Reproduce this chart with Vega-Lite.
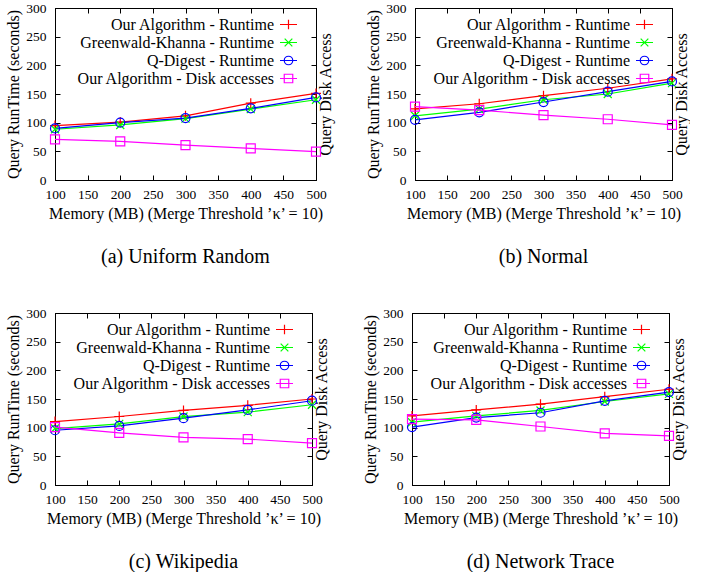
{
  "$schema": "https://vega.github.io/schema/vega-lite/v6.json",
  "background": "white",
  "padding": {"left": 5, "top": 0, "right": 0, "bottom": 0},
  "datasets": {
    "runs": [
      {"p": "a", "s": "Our Algorithm - Runtime", "m": 100, "v": 95},
      {"p": "a", "s": "Our Algorithm - Runtime", "m": 200, "v": 101},
      {"p": "a", "s": "Our Algorithm - Runtime", "m": 300, "v": 112},
      {"p": "a", "s": "Our Algorithm - Runtime", "m": 400, "v": 134},
      {"p": "a", "s": "Our Algorithm - Runtime", "m": 500, "v": 151},
      {"p": "a", "s": "Greenwald-Khanna - Runtime", "m": 100, "v": 88.5},
      {"p": "a", "s": "Greenwald-Khanna - Runtime", "m": 200, "v": 96},
      {"p": "a", "s": "Greenwald-Khanna - Runtime", "m": 300, "v": 107},
      {"p": "a", "s": "Greenwald-Khanna - Runtime", "m": 400, "v": 123.5},
      {"p": "a", "s": "Greenwald-Khanna - Runtime", "m": 500, "v": 140},
      {"p": "a", "s": "Q-Digest - Runtime", "m": 100, "v": 90},
      {"p": "a", "s": "Q-Digest - Runtime", "m": 200, "v": 100},
      {"p": "a", "s": "Q-Digest - Runtime", "m": 300, "v": 108},
      {"p": "a", "s": "Q-Digest - Runtime", "m": 400, "v": 125},
      {"p": "a", "s": "Q-Digest - Runtime", "m": 500, "v": 144},
      {"p": "a", "s": "Our Algorithm - Disk accesses", "m": 100, "v": 71},
      {"p": "a", "s": "Our Algorithm - Disk accesses", "m": 200, "v": 67.5},
      {"p": "a", "s": "Our Algorithm - Disk accesses", "m": 300, "v": 61},
      {"p": "a", "s": "Our Algorithm - Disk accesses", "m": 400, "v": 55},
      {"p": "a", "s": "Our Algorithm - Disk accesses", "m": 500, "v": 49.5},
      {"p": "b", "s": "Our Algorithm - Runtime", "m": 100, "v": 124},
      {"p": "b", "s": "Our Algorithm - Runtime", "m": 200, "v": 133},
      {"p": "b", "s": "Our Algorithm - Runtime", "m": 300, "v": 147},
      {"p": "b", "s": "Our Algorithm - Runtime", "m": 400, "v": 160},
      {"p": "b", "s": "Our Algorithm - Runtime", "m": 500, "v": 176.5},
      {"p": "b", "s": "Greenwald-Khanna - Runtime", "m": 100, "v": 112},
      {"p": "b", "s": "Greenwald-Khanna - Runtime", "m": 200, "v": 123.5},
      {"p": "b", "s": "Greenwald-Khanna - Runtime", "m": 300, "v": 140},
      {"p": "b", "s": "Greenwald-Khanna - Runtime", "m": 400, "v": 150},
      {"p": "b", "s": "Greenwald-Khanna - Runtime", "m": 500, "v": 169},
      {"p": "b", "s": "Q-Digest - Runtime", "m": 100, "v": 105},
      {"p": "b", "s": "Q-Digest - Runtime", "m": 200, "v": 118},
      {"p": "b", "s": "Q-Digest - Runtime", "m": 300, "v": 136},
      {"p": "b", "s": "Q-Digest - Runtime", "m": 400, "v": 154},
      {"p": "b", "s": "Q-Digest - Runtime", "m": 500, "v": 172},
      {"p": "b", "s": "Our Algorithm - Disk accesses", "m": 100, "v": 128},
      {"p": "b", "s": "Our Algorithm - Disk accesses", "m": 200, "v": 122},
      {"p": "b", "s": "Our Algorithm - Disk accesses", "m": 300, "v": 113},
      {"p": "b", "s": "Our Algorithm - Disk accesses", "m": 400, "v": 106},
      {"p": "b", "s": "Our Algorithm - Disk accesses", "m": 500, "v": 96},
      {"p": "c", "s": "Our Algorithm - Runtime", "m": 100, "v": 110.7},
      {"p": "c", "s": "Our Algorithm - Runtime", "m": 200, "v": 119.5},
      {"p": "c", "s": "Our Algorithm - Runtime", "m": 300, "v": 130},
      {"p": "c", "s": "Our Algorithm - Runtime", "m": 400, "v": 139},
      {"p": "c", "s": "Our Algorithm - Runtime", "m": 500, "v": 150},
      {"p": "c", "s": "Greenwald-Khanna - Runtime", "m": 100, "v": 98.5},
      {"p": "c", "s": "Greenwald-Khanna - Runtime", "m": 200, "v": 106.6},
      {"p": "c", "s": "Greenwald-Khanna - Runtime", "m": 300, "v": 119.4},
      {"p": "c", "s": "Greenwald-Khanna - Runtime", "m": 400, "v": 127},
      {"p": "c", "s": "Greenwald-Khanna - Runtime", "m": 500, "v": 140},
      {"p": "c", "s": "Q-Digest - Runtime", "m": 100, "v": 95.5},
      {"p": "c", "s": "Q-Digest - Runtime", "m": 200, "v": 103},
      {"p": "c", "s": "Q-Digest - Runtime", "m": 300, "v": 116.5},
      {"p": "c", "s": "Q-Digest - Runtime", "m": 400, "v": 131},
      {"p": "c", "s": "Q-Digest - Runtime", "m": 500, "v": 147},
      {"p": "c", "s": "Our Algorithm - Disk accesses", "m": 100, "v": 100.8},
      {"p": "c", "s": "Our Algorithm - Disk accesses", "m": 200, "v": 91},
      {"p": "c", "s": "Our Algorithm - Disk accesses", "m": 300, "v": 83},
      {"p": "c", "s": "Our Algorithm - Disk accesses", "m": 400, "v": 80},
      {"p": "c", "s": "Our Algorithm - Disk accesses", "m": 500, "v": 73},
      {"p": "d", "s": "Our Algorithm - Runtime", "m": 100, "v": 120.5},
      {"p": "d", "s": "Our Algorithm - Runtime", "m": 200, "v": 131},
      {"p": "d", "s": "Our Algorithm - Runtime", "m": 300, "v": 141},
      {"p": "d", "s": "Our Algorithm - Runtime", "m": 400, "v": 154},
      {"p": "d", "s": "Our Algorithm - Runtime", "m": 500, "v": 167},
      {"p": "d", "s": "Greenwald-Khanna - Runtime", "m": 100, "v": 109.5},
      {"p": "d", "s": "Greenwald-Khanna - Runtime", "m": 200, "v": 120.5},
      {"p": "d", "s": "Greenwald-Khanna - Runtime", "m": 300, "v": 130},
      {"p": "d", "s": "Greenwald-Khanna - Runtime", "m": 400, "v": 145.6},
      {"p": "d", "s": "Greenwald-Khanna - Runtime", "m": 500, "v": 159},
      {"p": "d", "s": "Q-Digest - Runtime", "m": 100, "v": 101},
      {"p": "d", "s": "Q-Digest - Runtime", "m": 200, "v": 117.6},
      {"p": "d", "s": "Q-Digest - Runtime", "m": 300, "v": 126},
      {"p": "d", "s": "Q-Digest - Runtime", "m": 400, "v": 146.8},
      {"p": "d", "s": "Q-Digest - Runtime", "m": 500, "v": 162},
      {"p": "d", "s": "Our Algorithm - Disk accesses", "m": 100, "v": 115},
      {"p": "d", "s": "Our Algorithm - Disk accesses", "m": 200, "v": 113.5},
      {"p": "d", "s": "Our Algorithm - Disk accesses", "m": 300, "v": 102},
      {"p": "d", "s": "Our Algorithm - Disk accesses", "m": 400, "v": 90},
      {"p": "d", "s": "Our Algorithm - Disk accesses", "m": 500, "v": 85.6}
    ]
  },
  "data": {"name": "runs"},
  "resolve": {"scale": {"color": "independent", "shape": "independent"}, "legend": {"color": "independent", "shape": "independent"}},
  "columns": 1,
  "align": "none",
  "spacing": {"row": 38, "column": 0},
  "concat": [
    {
      "spacing": 31,
      "resolve": {"scale": {"color": "independent", "shape": "independent"}, "legend": {"color": "independent", "shape": "independent"}},
      "hconcat": [
        {
          "width": 261, "height": 172,
          "title": {"text": "(a) Uniform Random"},
          "transform": [{"filter": "datum.p === 'a'"}],
          "resolve": {"scale": {"x": "independent", "y": "independent"}},
          "layer": [
            {
              "transform": [{"filter": "datum.s !== 'Our Algorithm - Disk accesses'"}],
              "encoding": {
                "x": {"field": "m", "type": "quantitative", "scale": {"domain": [100, 500], "nice": false, "zero": false}, "axis": {"orient": "bottom", "values": [100, 150, 200, 250, 300, 350, 400, 450, 500], "title": "Memory (MB) (Merge Threshold ’κ’ = 10)"}},
                "y": {"field": "v", "type": "quantitative", "scale": {"domain": [0, 300], "nice": false}, "axis": {"orient": "left", "values": [0, 50, 100, 150, 200, 250, 300], "title": "Query RunTime (seconds)"}},
                "color": {"field": "s", "type": "nominal", "scale": {"domain": ["Our Algorithm - Runtime", "Greenwald-Khanna - Runtime", "Q-Digest - Runtime", "Our Algorithm - Disk accesses"], "range": ["#ff0000", "#00ff00", "#0000ff", "#ff00ff"]}, "legend": {"legendX": 224, "encode": {"symbols": {"update": {"fill": {"value": "transparent"}, "shape": {"signal": "datum.value === 'Our Algorithm - Runtime' ? 'M-1,0H1M0,-0.55V0.55' : datum.value === 'Greenwald-Khanna - Runtime' ? 'M-1,0H1M-0.45,-0.45L0.45,0.45M-0.45,0.45L0.45,-0.45' : datum.value === 'Q-Digest - Runtime' ? 'M-1,0H1M0.5,0A0.5,0.5,0,1,1,-0.5,0A0.5,0.5,0,1,1,0.5,0' : 'M-1,0H1M-0.5,-0.5H0.5V0.5H-0.5Z'"}}}}}}
              },
              "layer": [
                {"mark": {"type": "line", "strokeWidth": 1.2}},
                {"mark": {"type": "point", "filled": false, "strokeWidth": 1.2, "size": 100, "opacity": 1}, "encoding": {"shape": {"field": "s", "type": "nominal", "scale": {"domain": ["Our Algorithm - Disk accesses", "Our Algorithm - Runtime", "Greenwald-Khanna - Runtime", "Q-Digest - Runtime"], "range": ["M-0.9,-0.9H0.9V0.9H-0.9Z", "M-1,0H1M0,-1V1", "M-0.8,-0.8L0.8,0.8M-0.8,0.8L0.8,-0.8", "M0.9,0A0.9,0.9,0,1,1,-0.9,0A0.9,0.9,0,1,1,0.9,0Z"]}, "legend": null}}}
              ]
            },
            {
              "transform": [{"filter": "datum.s === 'Our Algorithm - Disk accesses'"}],
              "encoding": {
                "x": {"field": "m", "type": "quantitative", "scale": {"domain": [100, 500], "nice": false, "zero": false}, "axis": {"orient": "top", "values": [100, 150, 200, 250, 300, 350, 400, 450, 500], "labels": false, "title": null}},
                "y": {"field": "v", "type": "quantitative", "scale": {"domain": [0, 300], "nice": false}, "axis": {"orient": "right", "values": [0, 50, 100, 150, 200, 250, 300], "labels": false, "title": "Query Disk Access"}},
                "color": {"field": "s", "type": "nominal", "scale": {"domain": ["Our Algorithm - Runtime", "Greenwald-Khanna - Runtime", "Q-Digest - Runtime", "Our Algorithm - Disk accesses"], "range": ["#ff0000", "#00ff00", "#0000ff", "#ff00ff"]}, "legend": {"legendX": 224, "encode": {"symbols": {"update": {"fill": {"value": "transparent"}, "shape": {"signal": "datum.value === 'Our Algorithm - Runtime' ? 'M-1,0H1M0,-0.55V0.55' : datum.value === 'Greenwald-Khanna - Runtime' ? 'M-1,0H1M-0.45,-0.45L0.45,0.45M-0.45,0.45L0.45,-0.45' : datum.value === 'Q-Digest - Runtime' ? 'M-1,0H1M0.5,0A0.5,0.5,0,1,1,-0.5,0A0.5,0.5,0,1,1,0.5,0' : 'M-1,0H1M-0.5,-0.5H0.5V0.5H-0.5Z'"}}}}}}
              },
              "layer": [
                {"mark": {"type": "line", "strokeWidth": 1.2}},
                {"mark": {"type": "point", "filled": false, "strokeWidth": 1.2, "size": 100, "opacity": 1}, "encoding": {"shape": {"field": "s", "type": "nominal", "scale": {"domain": ["Our Algorithm - Disk accesses", "Our Algorithm - Runtime", "Greenwald-Khanna - Runtime", "Q-Digest - Runtime"], "range": ["M-0.9,-0.9H0.9V0.9H-0.9Z", "M-1,0H1M0,-1V1", "M-0.8,-0.8L0.8,0.8M-0.8,0.8L0.8,-0.8", "M0.9,0A0.9,0.9,0,1,1,-0.9,0A0.9,0.9,0,1,1,0.9,0Z"]}, "legend": null}}}
              ]
            }
          ]
        },
        {
          "width": 257, "height": 172,
          "title": {"text": "(b) Normal"},
          "transform": [{"filter": "datum.p === 'b'"}],
          "resolve": {"scale": {"x": "independent", "y": "independent"}},
          "layer": [
            {
              "transform": [{"filter": "datum.s !== 'Our Algorithm - Disk accesses'"}],
              "encoding": {
                "x": {"field": "m", "type": "quantitative", "scale": {"domain": [100, 500], "nice": false, "zero": false}, "axis": {"orient": "bottom", "values": [100, 150, 200, 250, 300, 350, 400, 450, 500], "title": "Memory (MB) (Merge Threshold ’κ’ = 10)"}},
                "y": {"field": "v", "type": "quantitative", "scale": {"domain": [0, 300], "nice": false}, "axis": {"orient": "left", "values": [0, 50, 100, 150, 200, 250, 300], "title": "Query RunTime (seconds)"}},
                "color": {"field": "s", "type": "nominal", "scale": {"domain": ["Our Algorithm - Runtime", "Greenwald-Khanna - Runtime", "Q-Digest - Runtime", "Our Algorithm - Disk accesses"], "range": ["#ff0000", "#00ff00", "#0000ff", "#ff00ff"]}, "legend": {"legendX": 220, "encode": {"symbols": {"update": {"fill": {"value": "transparent"}, "shape": {"signal": "datum.value === 'Our Algorithm - Runtime' ? 'M-1,0H1M0,-0.55V0.55' : datum.value === 'Greenwald-Khanna - Runtime' ? 'M-1,0H1M-0.45,-0.45L0.45,0.45M-0.45,0.45L0.45,-0.45' : datum.value === 'Q-Digest - Runtime' ? 'M-1,0H1M0.5,0A0.5,0.5,0,1,1,-0.5,0A0.5,0.5,0,1,1,0.5,0' : 'M-1,0H1M-0.5,-0.5H0.5V0.5H-0.5Z'"}}}}}}
              },
              "layer": [
                {"mark": {"type": "line", "strokeWidth": 1.2}},
                {"mark": {"type": "point", "filled": false, "strokeWidth": 1.2, "size": 100, "opacity": 1}, "encoding": {"shape": {"field": "s", "type": "nominal", "scale": {"domain": ["Our Algorithm - Disk accesses", "Our Algorithm - Runtime", "Greenwald-Khanna - Runtime", "Q-Digest - Runtime"], "range": ["M-0.9,-0.9H0.9V0.9H-0.9Z", "M-1,0H1M0,-1V1", "M-0.8,-0.8L0.8,0.8M-0.8,0.8L0.8,-0.8", "M0.9,0A0.9,0.9,0,1,1,-0.9,0A0.9,0.9,0,1,1,0.9,0Z"]}, "legend": null}}}
              ]
            },
            {
              "transform": [{"filter": "datum.s === 'Our Algorithm - Disk accesses'"}],
              "encoding": {
                "x": {"field": "m", "type": "quantitative", "scale": {"domain": [100, 500], "nice": false, "zero": false}, "axis": {"orient": "top", "values": [100, 150, 200, 250, 300, 350, 400, 450, 500], "labels": false, "title": null}},
                "y": {"field": "v", "type": "quantitative", "scale": {"domain": [0, 300], "nice": false}, "axis": {"orient": "right", "values": [0, 50, 100, 150, 200, 250, 300], "labels": false, "title": "Query Disk Access"}},
                "color": {"field": "s", "type": "nominal", "scale": {"domain": ["Our Algorithm - Runtime", "Greenwald-Khanna - Runtime", "Q-Digest - Runtime", "Our Algorithm - Disk accesses"], "range": ["#ff0000", "#00ff00", "#0000ff", "#ff00ff"]}, "legend": {"legendX": 220, "encode": {"symbols": {"update": {"fill": {"value": "transparent"}, "shape": {"signal": "datum.value === 'Our Algorithm - Runtime' ? 'M-1,0H1M0,-0.55V0.55' : datum.value === 'Greenwald-Khanna - Runtime' ? 'M-1,0H1M-0.45,-0.45L0.45,0.45M-0.45,0.45L0.45,-0.45' : datum.value === 'Q-Digest - Runtime' ? 'M-1,0H1M0.5,0A0.5,0.5,0,1,1,-0.5,0A0.5,0.5,0,1,1,0.5,0' : 'M-1,0H1M-0.5,-0.5H0.5V0.5H-0.5Z'"}}}}}}
              },
              "layer": [
                {"mark": {"type": "line", "strokeWidth": 1.2}},
                {"mark": {"type": "point", "filled": false, "strokeWidth": 1.2, "size": 100, "opacity": 1}, "encoding": {"shape": {"field": "s", "type": "nominal", "scale": {"domain": ["Our Algorithm - Disk accesses", "Our Algorithm - Runtime", "Greenwald-Khanna - Runtime", "Q-Digest - Runtime"], "range": ["M-0.9,-0.9H0.9V0.9H-0.9Z", "M-1,0H1M0,-1V1", "M-0.8,-0.8L0.8,0.8M-0.8,0.8L0.8,-0.8", "M0.9,0A0.9,0.9,0,1,1,-0.9,0A0.9,0.9,0,1,1,0.9,0Z"]}, "legend": null}}}
              ]
            }
          ]
        }
      ]
    },
    {
      "spacing": 32,
      "resolve": {"scale": {"color": "independent", "shape": "independent"}, "legend": {"color": "independent", "shape": "independent"}},
      "hconcat": [
        {
          "width": 257, "height": 172,
          "title": {"text": "(c) Wikipedia"},
          "transform": [{"filter": "datum.p === 'c'"}],
          "resolve": {"scale": {"x": "independent", "y": "independent"}},
          "layer": [
            {
              "transform": [{"filter": "datum.s !== 'Our Algorithm - Disk accesses'"}],
              "encoding": {
                "x": {"field": "m", "type": "quantitative", "scale": {"domain": [100, 500], "nice": false, "zero": false}, "axis": {"orient": "bottom", "values": [100, 150, 200, 250, 300, 350, 400, 450, 500], "title": "Memory (MB) (Merge Threshold ’κ’ = 10)"}},
                "y": {"field": "v", "type": "quantitative", "scale": {"domain": [0, 300], "nice": false}, "axis": {"orient": "left", "values": [0, 50, 100, 150, 200, 250, 300], "title": "Query RunTime (seconds)"}},
                "color": {"field": "s", "type": "nominal", "scale": {"domain": ["Our Algorithm - Runtime", "Greenwald-Khanna - Runtime", "Q-Digest - Runtime", "Our Algorithm - Disk accesses"], "range": ["#ff0000", "#00ff00", "#0000ff", "#ff00ff"]}, "legend": {"legendX": 220, "encode": {"symbols": {"update": {"fill": {"value": "transparent"}, "shape": {"signal": "datum.value === 'Our Algorithm - Runtime' ? 'M-1,0H1M0,-0.55V0.55' : datum.value === 'Greenwald-Khanna - Runtime' ? 'M-1,0H1M-0.45,-0.45L0.45,0.45M-0.45,0.45L0.45,-0.45' : datum.value === 'Q-Digest - Runtime' ? 'M-1,0H1M0.5,0A0.5,0.5,0,1,1,-0.5,0A0.5,0.5,0,1,1,0.5,0' : 'M-1,0H1M-0.5,-0.5H0.5V0.5H-0.5Z'"}}}}}}
              },
              "layer": [
                {"mark": {"type": "line", "strokeWidth": 1.2}},
                {"mark": {"type": "point", "filled": false, "strokeWidth": 1.2, "size": 100, "opacity": 1}, "encoding": {"shape": {"field": "s", "type": "nominal", "scale": {"domain": ["Our Algorithm - Disk accesses", "Our Algorithm - Runtime", "Greenwald-Khanna - Runtime", "Q-Digest - Runtime"], "range": ["M-0.9,-0.9H0.9V0.9H-0.9Z", "M-1,0H1M0,-1V1", "M-0.8,-0.8L0.8,0.8M-0.8,0.8L0.8,-0.8", "M0.9,0A0.9,0.9,0,1,1,-0.9,0A0.9,0.9,0,1,1,0.9,0Z"]}, "legend": null}}}
              ]
            },
            {
              "transform": [{"filter": "datum.s === 'Our Algorithm - Disk accesses'"}],
              "encoding": {
                "x": {"field": "m", "type": "quantitative", "scale": {"domain": [100, 500], "nice": false, "zero": false}, "axis": {"orient": "top", "values": [100, 150, 200, 250, 300, 350, 400, 450, 500], "labels": false, "title": null}},
                "y": {"field": "v", "type": "quantitative", "scale": {"domain": [0, 300], "nice": false}, "axis": {"orient": "right", "values": [0, 50, 100, 150, 200, 250, 300], "labels": false, "title": "Query Disk Access"}},
                "color": {"field": "s", "type": "nominal", "scale": {"domain": ["Our Algorithm - Runtime", "Greenwald-Khanna - Runtime", "Q-Digest - Runtime", "Our Algorithm - Disk accesses"], "range": ["#ff0000", "#00ff00", "#0000ff", "#ff00ff"]}, "legend": {"legendX": 220, "encode": {"symbols": {"update": {"fill": {"value": "transparent"}, "shape": {"signal": "datum.value === 'Our Algorithm - Runtime' ? 'M-1,0H1M0,-0.55V0.55' : datum.value === 'Greenwald-Khanna - Runtime' ? 'M-1,0H1M-0.45,-0.45L0.45,0.45M-0.45,0.45L0.45,-0.45' : datum.value === 'Q-Digest - Runtime' ? 'M-1,0H1M0.5,0A0.5,0.5,0,1,1,-0.5,0A0.5,0.5,0,1,1,0.5,0' : 'M-1,0H1M-0.5,-0.5H0.5V0.5H-0.5Z'"}}}}}}
              },
              "layer": [
                {"mark": {"type": "line", "strokeWidth": 1.2}},
                {"mark": {"type": "point", "filled": false, "strokeWidth": 1.2, "size": 100, "opacity": 1}, "encoding": {"shape": {"field": "s", "type": "nominal", "scale": {"domain": ["Our Algorithm - Disk accesses", "Our Algorithm - Runtime", "Greenwald-Khanna - Runtime", "Q-Digest - Runtime"], "range": ["M-0.9,-0.9H0.9V0.9H-0.9Z", "M-1,0H1M0,-1V1", "M-0.8,-0.8L0.8,0.8M-0.8,0.8L0.8,-0.8", "M0.9,0A0.9,0.9,0,1,1,-0.9,0A0.9,0.9,0,1,1,0.9,0Z"]}, "legend": null}}}
              ]
            }
          ]
        },
        {
          "width": 257, "height": 172,
          "title": {"text": "(d) Network Trace"},
          "transform": [{"filter": "datum.p === 'd'"}],
          "resolve": {"scale": {"x": "independent", "y": "independent"}},
          "layer": [
            {
              "transform": [{"filter": "datum.s !== 'Our Algorithm - Disk accesses'"}],
              "encoding": {
                "x": {"field": "m", "type": "quantitative", "scale": {"domain": [100, 500], "nice": false, "zero": false}, "axis": {"orient": "bottom", "values": [100, 150, 200, 250, 300, 350, 400, 450, 500], "title": "Memory (MB) (Merge Threshold ’κ’ = 10)"}},
                "y": {"field": "v", "type": "quantitative", "scale": {"domain": [0, 300], "nice": false}, "axis": {"orient": "left", "values": [0, 50, 100, 150, 200, 250, 300], "title": "Query RunTime (seconds)"}},
                "color": {"field": "s", "type": "nominal", "scale": {"domain": ["Our Algorithm - Runtime", "Greenwald-Khanna - Runtime", "Q-Digest - Runtime", "Our Algorithm - Disk accesses"], "range": ["#ff0000", "#00ff00", "#0000ff", "#ff00ff"]}, "legend": {"legendX": 220, "encode": {"symbols": {"update": {"fill": {"value": "transparent"}, "shape": {"signal": "datum.value === 'Our Algorithm - Runtime' ? 'M-1,0H1M0,-0.55V0.55' : datum.value === 'Greenwald-Khanna - Runtime' ? 'M-1,0H1M-0.45,-0.45L0.45,0.45M-0.45,0.45L0.45,-0.45' : datum.value === 'Q-Digest - Runtime' ? 'M-1,0H1M0.5,0A0.5,0.5,0,1,1,-0.5,0A0.5,0.5,0,1,1,0.5,0' : 'M-1,0H1M-0.5,-0.5H0.5V0.5H-0.5Z'"}}}}}}
              },
              "layer": [
                {"mark": {"type": "line", "strokeWidth": 1.2}},
                {"mark": {"type": "point", "filled": false, "strokeWidth": 1.2, "size": 100, "opacity": 1}, "encoding": {"shape": {"field": "s", "type": "nominal", "scale": {"domain": ["Our Algorithm - Disk accesses", "Our Algorithm - Runtime", "Greenwald-Khanna - Runtime", "Q-Digest - Runtime"], "range": ["M-0.9,-0.9H0.9V0.9H-0.9Z", "M-1,0H1M0,-1V1", "M-0.8,-0.8L0.8,0.8M-0.8,0.8L0.8,-0.8", "M0.9,0A0.9,0.9,0,1,1,-0.9,0A0.9,0.9,0,1,1,0.9,0Z"]}, "legend": null}}}
              ]
            },
            {
              "transform": [{"filter": "datum.s === 'Our Algorithm - Disk accesses'"}],
              "encoding": {
                "x": {"field": "m", "type": "quantitative", "scale": {"domain": [100, 500], "nice": false, "zero": false}, "axis": {"orient": "top", "values": [100, 150, 200, 250, 300, 350, 400, 450, 500], "labels": false, "title": null}},
                "y": {"field": "v", "type": "quantitative", "scale": {"domain": [0, 300], "nice": false}, "axis": {"orient": "right", "values": [0, 50, 100, 150, 200, 250, 300], "labels": false, "title": "Query Disk Access"}},
                "color": {"field": "s", "type": "nominal", "scale": {"domain": ["Our Algorithm - Runtime", "Greenwald-Khanna - Runtime", "Q-Digest - Runtime", "Our Algorithm - Disk accesses"], "range": ["#ff0000", "#00ff00", "#0000ff", "#ff00ff"]}, "legend": {"legendX": 220, "encode": {"symbols": {"update": {"fill": {"value": "transparent"}, "shape": {"signal": "datum.value === 'Our Algorithm - Runtime' ? 'M-1,0H1M0,-0.55V0.55' : datum.value === 'Greenwald-Khanna - Runtime' ? 'M-1,0H1M-0.45,-0.45L0.45,0.45M-0.45,0.45L0.45,-0.45' : datum.value === 'Q-Digest - Runtime' ? 'M-1,0H1M0.5,0A0.5,0.5,0,1,1,-0.5,0A0.5,0.5,0,1,1,0.5,0' : 'M-1,0H1M-0.5,-0.5H0.5V0.5H-0.5Z'"}}}}}}
              },
              "layer": [
                {"mark": {"type": "line", "strokeWidth": 1.2}},
                {"mark": {"type": "point", "filled": false, "strokeWidth": 1.2, "size": 100, "opacity": 1}, "encoding": {"shape": {"field": "s", "type": "nominal", "scale": {"domain": ["Our Algorithm - Disk accesses", "Our Algorithm - Runtime", "Greenwald-Khanna - Runtime", "Q-Digest - Runtime"], "range": ["M-0.9,-0.9H0.9V0.9H-0.9Z", "M-1,0H1M0,-1V1", "M-0.8,-0.8L0.8,0.8M-0.8,0.8L0.8,-0.8", "M0.9,0A0.9,0.9,0,1,1,-0.9,0A0.9,0.9,0,1,1,0.9,0Z"]}, "legend": null}}}
              ]
            }
          ]
        }
      ]
    }
  ],
  "config": {
    "font": "Liberation Serif",
    "view": {"stroke": "black", "strokeWidth": 1},
    "style": {
      "guide-label": {"font": "Liberation Serif", "fill": "black"},
      "guide-title": {"font": "Liberation Serif", "fill": "black", "fontWeight": "normal"}
    },
    "axis": {
      "grid": false,
      "domainColor": "black",
      "domainWidth": 1,
      "tickColor": "black",
      "tickWidth": 1,
      "tickSize": -5,
      "labelColor": "black",
      "labelFont": "Liberation Serif",
      "labelFontSize": 13.5,
      "labelFlush": false,
      "labelOverlap": false,
      "titleColor": "black",
      "titleFont": "Liberation Serif",
      "titleFontSize": 16,
      "titleFontWeight": "normal"
    },
    "axisBottom": {"labelPadding": 12, "titlePadding": 5},
    "axisLeft": {"labelPadding": 14, "titlePadding": 4},
    "axisRight": {"titlePadding": 1, "titleAngle": 270, "titleBaseline": "top"},
    "legend": {
      "orient": "none",
      "legendY": 7,
      "title": null,
      "padding": 0,
      "rowPadding": -4,
      "symbolSize": 289,
      "symbolStrokeWidth": 1.2,
      "symbolFillColor": "transparent",
      "labelAlign": "right",
      "labelOffset": -24,
      "labelFont": "Liberation Serif",
      "labelFontSize": 16,
      "labelColor": "black",
      "labelLimit": 0,
      "symbolOpacity": 1
    },
    "title": {
      "orient": "bottom",
      "offset": 25,
      "font": "Liberation Serif",
      "fontSize": 20,
      "fontWeight": "normal",
      "color": "black",
      "anchor": "middle"
    }
  }
}
